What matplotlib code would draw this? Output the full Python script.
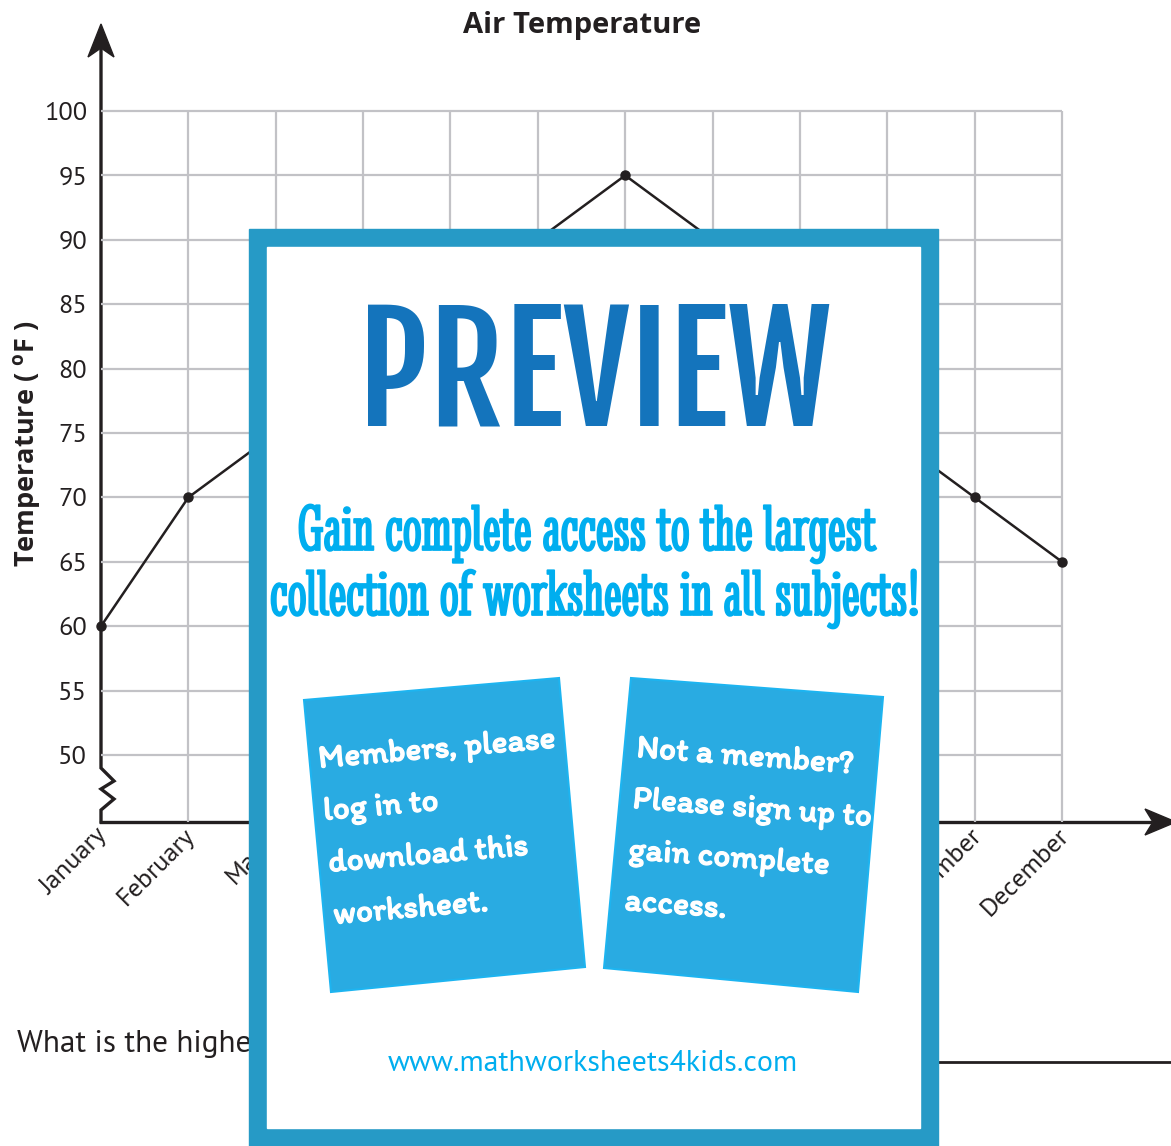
import numpy as np
import matplotlib.pyplot as plt
import matplotlib.patheffects as pe
import matplotlib.transforms as mtransforms
from matplotlib.patches import Polygon, Rectangle

months = ['January', 'February', 'March', 'April', 'May', 'June', 'July',
          'August', 'September', 'October', 'November', 'December']
temps = [60, 70, 75, 80, 85, 90, 95, 90, 80, 75, 70, 65]
yticks = list(range(50, 101, 5))

W, H = 1171, 1146
INK = '#231F20'
SANS = ['PT Sans', 'Open Sans', 'DejaVu Sans']
BOLD = ['Open Sans', 'DejaVu Sans']
plt.rcParams['font.family'] = SANS
plt.rcParams['mathtext.fontset'] = 'custom'
plt.rcParams['mathtext.rm'] = 'Open Sans'
plt.rcParams['mathtext.bf'] = 'Open Sans:bold'

fig = plt.figure(figsize=(W / 100, H / 100), dpi=100)

# bottom layer in pixel coords: arrows, titles, question
base = fig.add_axes([0, 0, 1, 1], zorder=0)
base.set_xlim(0, W)
base.set_ylim(H, 0)
base.axis('off')

# the chart itself
ylo = 50 - 67 / 12.88
ax = fig.add_axes([101 / W, 1 - 822 / H, 961 / W, 711 / H], zorder=1)
ax.set_facecolor('none')
ax.set_xlim(0, 11)
ax.set_ylim(ylo, 100)
ax.hlines(yticks, 0, 11, color='#C2C2C6', lw=1.6, clip_on=False, zorder=1)
ax.vlines(range(1, 12), ylo, 100, color='#C2C2C6', lw=1.6, clip_on=False, zorder=1)
ax.plot(range(12), temps, color=INK, lw=1.8, marker='o', ms=6.5,
        clip_on=False, zorder=3)
ax.set_yticks(yticks)
ax.set_xticks(range(12))
ax.set_xticklabels(months, rotation=45, ha='right', va='top', rotation_mode='anchor')
ax.tick_params(length=0, colors=INK)
ax.tick_params(axis='y', pad=10, labelsize=19)
ax.tick_params(axis='x', pad=4, labelsize=19)
nudge = mtransforms.ScaledTranslation(-5 / 100, 4 / 100, fig.dpi_scale_trans)
for lab in ax.get_xticklabels():
    lab.set_transform(lab.get_transform() + nudge)
for s in ax.spines.values():
    s.set_visible(False)

# axis lines with arrows and the zigzag break
base.plot([101, 101, 114, 101, 114, 101, 101],
          [50, 768, 781, 789, 799, 810, 822], color=INK, lw=2.4,
          solid_joinstyle='miter')
base.plot([101, 1150], [822, 822], color=INK, lw=2.4)
base.add_patch(Polygon([(101, 24), (88, 57), (101, 48), (114, 57)], color=INK))
base.add_patch(Polygon([(1176, 822), (1145, 809), (1153, 822), (1145, 835)], color=INK))

base.text(582, 33, 'Air Temperature', ha='center', va='baseline', family=BOLD,
          fontsize=21, fontweight='bold', color=INK)
base.text(27, 444, r'Temperature ( $\mathbf{^o}$F )', ha='center', va='center',
          rotation=90, fontsize=19.5, fontweight='bold', family=BOLD, color=INK)
base.text(17, 1052, 'What is the highest temperature?', ha='left', va='baseline',
          fontsize=22.5, color=INK)
base.plot([700, 1171], [1062, 1062], color=INK, lw=2)

# preview overlay
top = fig.add_axes([0, 0, 1, 1], zorder=2)
top.set_xlim(0, W)
top.set_ylim(H, 0)
top.axis('off')
top.patch.set_visible(False)
top.add_patch(Rectangle((249, 229), 689, 940, color='#269AC6'))
top.add_patch(Rectangle((267, 247), 653, 881, color='white'))
top.text(594.5, 425, 'PREVIEW', ha='center', va='baseline', fontsize=105,
         family=['Fjalla One', 'Oswald', 'DejaVu Serif'], color='#1474BC')
slab = ['Stint Ultra Condensed', 'DejaVu Serif']
thick = [pe.withStroke(linewidth=1.3, foreground='#00AEEF')]
top.text(586, 550, 'Gain complete access to the largest', ha='center', va='baseline',
         fontsize=48, family=slab, color='#00AEEF', path_effects=thick)
top.text(594.5, 615, 'collection of worksheets in all subjects!', ha='center',
         va='baseline', fontsize=48, family=slab, color='#00AEEF', path_effects=thick)

top.add_patch(Polygon([(304, 700), (559, 678), (585, 967), (331, 992)],
                      facecolor='#29ABE2', edgecolor='#1DB4F0', lw=1.5))
top.add_patch(Polygon([(631, 678), (883, 697), (858, 992), (604, 968)],
                      facecolor='#29ABE2', edgecolor='#1DB4F0', lw=1.5))
hand = ['Itim', 'Open Sans', 'DejaVu Sans']
white_bold = [pe.withStroke(linewidth=0.9, foreground='white')]
for i, line in enumerate(['Members, please', 'log in to', 'download this', 'worksheet.']):
    top.text(319 + 5 * i, 768 + 52 * i, line, rotation=4.9, rotation_mode='anchor',
             ha='left', va='baseline', fontsize=24, family=hand, color='white',
             path_effects=white_bold)
for i, line in enumerate(['Not a member?', 'Please sign up to', 'gain complete', 'access.']):
    top.text(636 - 4 * i, 757 + 51 * i, line, rotation=-4.3, rotation_mode='anchor',
             ha='left', va='baseline', fontsize=24, family=hand, color='white',
             path_effects=white_bold)
top.text(593, 1071, 'www.mathworksheets4kids.com', ha='center', va='baseline',
         fontsize=21.5, color='#00AEEF')

fig.savefig('out.png', dpi=100)
